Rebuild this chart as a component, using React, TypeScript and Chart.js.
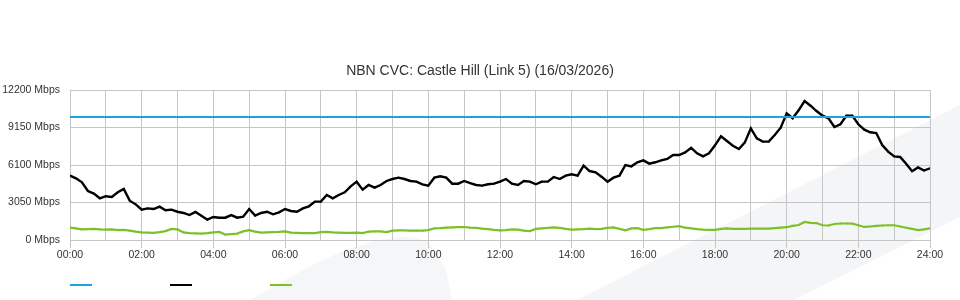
import React, { useEffect, useRef } from "react";
import { Chart, registerables } from "chart.js";

Chart.register(...registerables);

const TITLE = "NBN CVC: Castle Hill (Link 5) (16/03/2026)";
const STEP_MINUTES = 10;
const X_TICK_LABELS = ["00:00", "02:00", "04:00", "06:00", "08:00", "10:00", "12:00", "14:00", "16:00", "18:00", "20:00", "22:00", "24:00"];
const Y_TICKS = [0, 3050, 6100, 9150, 12200];
const CAPACITY = 10000;

// Black series (Mbps), 10-minute samples from 00:00 to 24:00
const trafficIn = [
  5230, 5015, 4690, 3985, 3770, 3390,
  3560, 3500, 3880, 4150, 3200, 2900,
  2470, 2575, 2520, 2710, 2415, 2470,
  2300, 2200, 2030, 2280, 1980, 1650,
  1870, 1815, 1815, 2030, 1815, 1900,
  2520, 1980, 2200, 2300, 2090, 2250,
  2520, 2360, 2300, 2575, 2740, 3120,
  3120, 3660, 3390, 3660, 3880, 4365,
  4745, 4095, 4475, 4255, 4475, 4800,
  4960, 5070, 4960, 4800, 4745, 4530,
  4420, 5070, 5180, 5070, 4580, 4580,
  4800, 4635, 4475, 4420, 4530, 4580,
  4745, 4960, 4580, 4475, 4800, 4745,
  4530, 4745, 4745, 5125, 4960, 5230,
  5340, 5230, 6045, 5610, 5505, 5150,
  4745, 5070, 5230, 6100, 5990, 6320,
  6480, 6210, 6320, 6480, 6590, 6915,
  6915, 7130, 7500, 7050, 6805, 7050,
  7700, 8430, 8050, 7670, 7400, 7940,
  9085, 8270, 8000, 8000, 8540, 9135,
  10300, 9900, 10550, 11300, 10925, 10490,
  10110, 9900, 9190, 9410, 10110, 10110,
  9410, 8970, 8760, 8700, 7725, 7185,
  6805, 6750, 6200, 5600, 5900, 5650,
  5830,
];

// Green series (Mbps), 10-minute samples from 00:00 to 24:00
const trafficOut = [
  1000, 950, 860, 880, 900, 860,
  840, 860, 800, 820, 760, 680,
  620, 600, 580, 640, 720, 900,
  860, 620, 560, 540, 520, 560,
  620, 660, 440, 480, 520, 700,
  800, 680, 600, 620, 640, 660,
  700, 600, 580, 560, 560, 560,
  640, 660, 620, 600, 580, 580,
  600, 560, 680, 700, 700, 640,
  760, 780, 790, 770, 760, 760,
  800, 950, 960, 1000, 1020, 1040,
  1055, 1000, 980, 920, 880, 820,
  780, 800, 860, 840, 760, 720,
  900, 950, 980, 1030, 980, 900,
  840, 860, 880, 920, 880, 900,
  980, 1020, 900, 780, 940, 960,
  830, 880, 960, 960, 1020, 1080,
  1130, 1000, 950, 880, 840, 820,
  820, 900, 940, 900, 900, 900,
  920, 920, 920, 930, 960, 1000,
  1040, 1150, 1220, 1470, 1400, 1380,
  1200, 1180, 1300, 1340, 1340, 1330,
  1200, 1060, 1100, 1150, 1180, 1200,
  1200, 1100, 1000, 900, 800, 860,
  950,
];

const FONT = "'Liberation Sans', Arial, Helvetica, sans-serif";
const GRID = "#c6c6c6";
const TEXT = "#333333";

const toPoints = (arr: number[]) => arr.map((v, i) => ({ x: i * STEP_MINUTES, y: v }));

const bottomLegend = {
  id: "bottomLegend",
  afterDraw(chart: any) {
    const ctx = chart.ctx;
    const left = chart.chartArea.left;
    ctx.save();
    chart.data.datasets.forEach((ds: any, i: number) => {
      ctx.beginPath();
      ctx.strokeStyle = ds.borderColor;
      ctx.lineWidth = 2;
      const x0 = left + i * 100;
      ctx.moveTo(x0, 285);
      ctx.lineTo(x0 + 22, 285);
      ctx.stroke();
    });
    ctx.restore();
  },
};

function ChartView() {
  const ref = useRef<HTMLCanvasElement | null>(null);
  useEffect(() => {
    if (!ref.current) return;
    const chart = new Chart(ref.current, {
      type: "line",
      data: {
        datasets: [
          {
            label: "Capacity",
            data: [{ x: 0, y: CAPACITY }, { x: 1440, y: CAPACITY }],
            borderColor: "#1fa3e0",
            backgroundColor: "#1fa3e0",
            borderWidth: 2,
            pointRadius: 0,
          },
          {
            label: "In",
            data: toPoints(trafficIn),
            borderColor: "#000000",
            backgroundColor: "#000000",
            borderWidth: 2.4,
            pointRadius: 0.9,
            pointBorderWidth: 0,
          },
          {
            label: "Out",
            data: toPoints(trafficOut),
            borderColor: "#7cc128",
            backgroundColor: "#7cc128",
            borderWidth: 2.2,
            pointRadius: 0.9,
            pointBorderWidth: 0,
          },
        ],
      },
      options: {
        animation: false,
        responsive: false,
        maintainAspectRatio: false,
        layout: { padding: { top: 0, left: 0, right: 0, bottom: 40 } },
        plugins: {
          legend: { display: false },
          tooltip: { enabled: false },
          title: {
            display: true,
            text: TITLE,
            color: TEXT,
            font: { family: FONT, size: 14, weight: "normal" },
            padding: { top: 63, bottom: 10.2 },
          },
        },
        scales: {
          x: {
            type: "linear",
            min: 0,
            max: 1440,
            afterFit: (s: any) => {
              s.height = 20;
            },
            afterBuildTicks: (s: any) => {
              s.ticks = [];
              for (let m = 0; m <= 1440; m += 60) s.ticks.push({ value: m });
            },
            ticks: {
              autoSkip: false,
              maxRotation: 0,
              padding: 1,
              color: TEXT,
              font: { family: FONT, size: 10.5 },
              callback: (v: any) => (v % 120 === 0 ? X_TICK_LABELS[v / 120] : ""),
            },
            grid: {
              color: GRID,
              lineWidth: 1,
              tickLength: 8,
              tickColor: (c: any) => (c.tick && c.tick.value % 120 === 0 ? GRID : "rgba(0,0,0,0)"),
            },
            border: { color: GRID },
          },
          y: {
            min: 0,
            max: 12200,
            afterFit: (s: any) => {
              s.width = 70;
            },
            afterBuildTicks: (s: any) => {
              s.ticks = Y_TICKS.map((v) => ({ value: v }));
            },
            ticks: {
              padding: 10,
              color: TEXT,
              font: { family: FONT, size: 10.5 },
              callback: (v: any) => `${v} Mbps`,
            },
            grid: { color: GRID, lineWidth: 1, drawTicks: false },
            border: { color: GRID },
          },
          yRight: {
            position: "right",
            min: 0,
            max: 12200,
            afterFit: (s: any) => {
              s.width = 30;
            },
            ticks: { display: false },
            grid: { display: false, drawTicks: false },
            border: { display: false },
          },
        },
      },
      plugins: [bottomLegend],
    } as any);
    return () => chart.destroy();
  }, []);
  return <canvas ref={ref} width={960} height={300} style={{ position: "absolute", left: 0, top: 0, width: 960, height: 300 }} />;
}

export default function App() {
  return (
    <div style={{ position: "absolute", left: 0, top: 0, width: 960, height: 300, background: "#ffffff", overflow: "hidden" }}>
      <svg width={960} height={300} style={{ position: "absolute", left: 0, top: 0 }}>
        <polygon points="577,300 960,105 960,217 794,300" fill="#f4f5f7" />
        <path d="M250,300 C285,280 330,252 372,242 C395,236 418,234 430,244 L446,270 L452,300 Z" fill="#f5f6f8" />
      </svg>
      <ChartView />
    </div>
  );
}
